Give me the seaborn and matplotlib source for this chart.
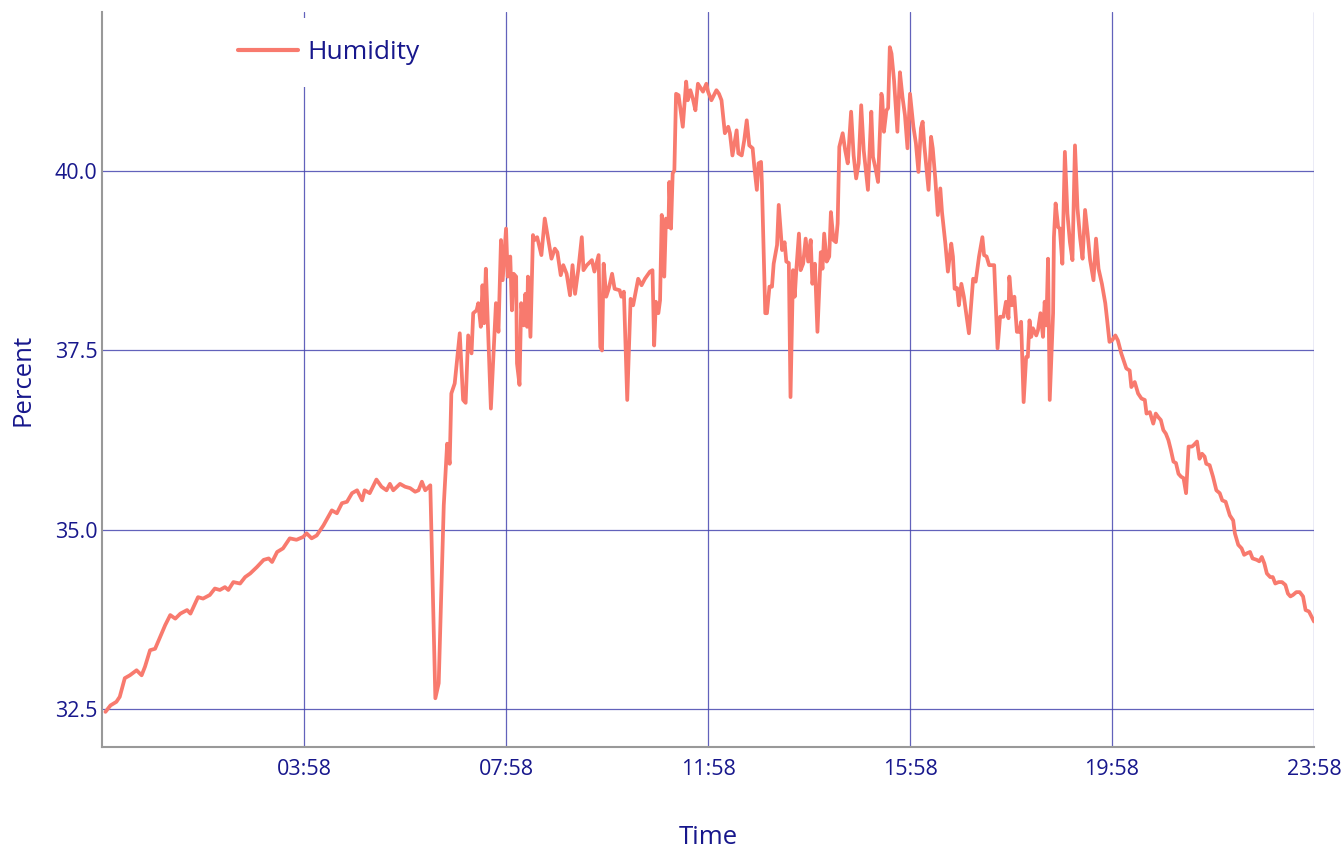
import seaborn as sns
import matplotlib.pyplot as plt
import matplotlib.dates as mdates
import pandas as pd

# minutes after midnight, humidity in percent
minutes = [
    2, 8, 15, 19, 25, 31, 39, 45, 49, 55, 61, 73, 79, 85, 91, 99, 103, 112, 118, 126,
    132, 138, 144, 148, 154, 162, 168, 174, 182, 190, 196, 200, 206, 213, 221, 229, 237, 241, 247, 253,
    261, 271, 277, 283, 289, 295, 301, 307, 310, 316, 324, 330, 336, 340, 344, 352, 358, 364, 370, 374,
    378, 382, 388, 394, 398, 404, 408, 411, 413, 417, 423, 427, 430, 433, 437, 439, 443, 445, 448, 450,
    452, 454, 460, 466, 469, 472, 474, 478, 480, 483, 485, 487, 490, 491, 494, 496, 499, 501, 503, 504,
    507, 510, 512, 515, 520, 524, 532, 536, 539, 543, 546, 550, 554, 557, 560, 564, 568, 570, 574, 580,
    583, 588, 590, 592, 594, 597, 600, 604, 607, 613, 615, 618, 622, 626, 629, 635, 639, 643, 649, 652,
    654, 656, 659, 661, 663, 666, 668, 671, 672, 674, 676, 678, 680, 683, 688, 692, 694, 697, 700, 703,
    706, 712, 716, 718, 722, 728, 731, 734, 738, 742, 744, 747, 752, 754, 758, 761, 764, 767, 771, 773,
    776, 778, 781, 782, 786, 788, 791, 794, 796, 800, 802, 806, 809, 811, 814, 816, 819, 821, 823, 826,
    828, 831, 834, 837, 840, 842, 845, 848, 852, 854, 856, 859, 862, 864, 867, 870, 872, 874, 878, 881,
    884, 888, 891, 894, 897, 900, 903, 908, 912, 914, 917, 920, 924, 925, 927, 930, 932, 934, 936, 939,
    943, 946, 949, 952, 955, 958, 962, 965, 968, 971, 973, 975, 980, 983, 985, 988, 991, 994, 996, 1000,
    1003, 1007, 1009, 1011, 1014, 1016, 1019, 1022, 1028, 1033, 1036, 1040, 1044, 1046, 1049, 1052, 1058, 1062, 1065, 1069,
    1072, 1075, 1076, 1079, 1082, 1085, 1088, 1090, 1093, 1096, 1098, 1100, 1102, 1104, 1108, 1110, 1113, 1116, 1118, 1120,
    1122, 1124, 1128, 1129, 1131, 1134, 1136, 1139, 1142, 1145, 1148, 1151, 1154, 1157, 1160, 1163, 1166, 1169, 1172, 1176,
    1179, 1182, 1186, 1190, 1192, 1195, 1198, 1202, 1205, 1209, 1215, 1219, 1221, 1225, 1229, 1233, 1237, 1239, 1243, 1247,
    1250, 1253, 1256, 1259, 1262, 1265, 1268, 1271, 1274, 1277, 1280, 1283, 1286, 1289, 1293, 1295, 1299, 1302, 1305, 1308,
    1310, 1314, 1318, 1322, 1326, 1329, 1333, 1338, 1342, 1344, 1348, 1352, 1355, 1358, 1362, 1365, 1370, 1373, 1376, 1379,
    1382, 1386, 1389, 1392, 1396, 1400, 1404, 1407, 1410, 1413, 1417, 1421, 1425, 1428, 1432, 1438,
]
humidity = [
    32.46, 32.55, 32.60, 32.67, 32.93, 32.97, 33.04, 32.97, 33.09, 33.32, 33.34, 33.67, 33.81, 33.76, 33.83, 33.88, 33.83, 34.06, 34.04, 34.09,
    34.18, 34.16, 34.20, 34.16, 34.27, 34.25, 34.34, 34.39, 34.48, 34.58, 34.60, 34.55, 34.69, 34.74, 34.88, 34.86, 34.90, 34.95, 34.88, 34.92,
    35.06, 35.27, 35.23, 35.37, 35.39, 35.51, 35.55, 35.41, 35.55, 35.51, 35.70, 35.60, 35.55, 35.64, 35.55, 35.64, 35.60, 35.58, 35.53, 35.55,
    35.67, 35.55, 35.62, 32.65, 32.86, 35.34, 36.20, 35.92, 36.90, 37.04, 37.74, 36.81, 36.77, 37.71, 37.46, 38.02, 38.06, 38.16, 37.83, 38.41,
    37.88, 38.64, 36.69, 38.16, 37.76, 39.04, 38.48, 39.20, 38.53, 38.81, 38.06, 38.57, 38.53, 37.32, 37.02, 38.16, 37.85, 38.29, 37.83, 38.53,
    37.69, 39.11, 39.04, 39.08, 38.83, 39.34, 38.78, 38.92, 38.87, 38.55, 38.69, 38.57, 38.27, 38.69, 38.29, 38.64, 39.08, 38.62, 38.69, 38.76,
    38.60, 38.83, 37.55, 37.50, 38.71, 38.25, 38.36, 38.57, 38.36, 38.34, 38.25, 38.32, 36.81, 38.22, 38.13, 38.50, 38.41, 38.50, 38.60, 38.62,
    37.57, 38.18, 38.02, 38.20, 39.39, 38.53, 39.34, 39.22, 39.85, 39.20, 39.97, 40.01, 41.08, 41.06, 40.62, 41.25, 40.99, 41.13, 41.01, 40.85,
    41.22, 41.11, 41.22, 41.11, 40.99, 41.13, 41.08, 40.99, 40.53, 40.62, 40.53, 40.22, 40.57, 40.25, 40.22, 40.43, 40.71, 40.36, 40.32, 40.06,
    39.74, 40.11, 40.13, 39.83, 38.02, 38.02, 38.39, 38.39, 38.71, 38.97, 39.53, 38.90, 39.01, 38.74, 38.72, 36.85, 38.62, 38.25, 38.64, 39.13,
    38.62, 38.71, 39.06, 38.74, 39.04, 38.43, 38.71, 37.76, 38.87, 38.64, 39.13, 38.74, 38.81, 39.43, 39.04, 39.01, 39.27, 40.34, 40.53, 40.29,
    40.11, 40.83, 40.22, 39.90, 40.11, 40.92, 40.29, 39.74, 40.83, 40.20, 40.04, 39.85, 41.08, 41.02, 40.55, 40.85, 40.88, 41.73, 41.64, 41.27,
    40.55, 41.38, 41.04, 40.78, 40.32, 41.08, 40.62, 40.39, 39.99, 40.60, 40.69, 40.36, 39.74, 40.48, 40.32, 39.90, 39.39, 39.76, 39.43, 38.99,
    38.60, 38.99, 38.81, 38.36, 38.37, 38.13, 38.43, 38.25, 37.74, 38.50, 38.46, 38.81, 39.08, 38.83, 38.81, 38.69, 38.69, 37.53, 37.97, 37.97,
    38.18, 37.95, 38.53, 38.13, 38.25, 37.76, 37.76, 37.90, 36.78, 37.41, 37.41, 37.92, 37.69, 37.81, 37.71, 37.78, 38.02, 37.69, 38.18, 37.85,
    38.78, 36.81, 38.02, 39.08, 39.55, 39.22, 39.20, 38.71, 40.27, 39.41, 39.01, 38.76, 40.36, 39.48, 39.08, 38.78, 39.46, 39.13, 38.76, 38.48,
    39.06, 38.64, 38.43, 38.16, 37.95, 37.62, 37.64, 37.71, 37.64, 37.46, 37.25, 37.22, 36.99, 37.06, 36.90, 36.83, 36.81, 36.62, 36.64, 36.48,
    36.62, 36.57, 36.53, 36.39, 36.34, 36.25, 36.11, 35.95, 35.93, 35.78, 35.74, 35.72, 35.51, 36.16, 36.16, 36.18, 36.23, 35.99, 36.06, 36.02,
    35.92, 35.90, 35.74, 35.55, 35.51, 35.41, 35.39, 35.20, 35.13, 34.95, 34.79, 34.74, 34.65, 34.67, 34.69, 34.60, 34.58, 34.56, 34.62, 34.53,
    34.39, 34.34, 34.34, 34.25, 34.27, 34.27, 34.23, 34.11, 34.07, 34.09, 34.13, 34.13, 34.07, 33.88, 33.86, 33.72,
]
x_ticks = ["03:58", "07:58", "11:58", "15:58", "19:58", "23:58"]
y_ticks = [32.5, 35.0, 37.5, 40.0]

text_color = "#17178c"
line_color = "#f87a6e"
grid_color = "#4646b0"

day = pd.Timestamp("2024-01-01")
df = pd.DataFrame({
    "time": day + pd.to_timedelta(minutes, unit="min"),
    "humidity": humidity,
})

sns.set_style("white")
plt.rcParams["font.family"] = ["Open Sans", "DejaVu Sans"]

fig = plt.figure(figsize=(13.43, 8.48), dpi=100)
ax = fig.add_axes([0.076, 0.1191, 0.9024, 0.8667])

sns.lineplot(data=df, x="time", y="humidity", ax=ax, color=line_color,
             linewidth=2.7, label="Humidity")

ax.set_xlim(day - pd.Timedelta(minutes=2), day + pd.Timedelta(minutes=1438))
ax.set_ylim(31.97, 42.22)

tick_times = [day + pd.Timedelta(hours=int(t[:2]), minutes=int(t[3:])) for t in x_ticks]
ax.set_xticks(tick_times)
ax.xaxis.set_major_formatter(mdates.DateFormatter("%H:%M"))
ax.set_yticks(y_ticks)
ax.set_yticklabels([f"{v:.1f}" for v in y_ticks])

ax.grid(True, color=grid_color, linewidth=0.9, alpha=0.85)
ax.set_axisbelow(True)
ax.tick_params(axis="both", length=0, labelsize=15.5, labelcolor=text_color)
ax.tick_params(axis="x", pad=8.5)
ax.tick_params(axis="y", pad=3.5)

for side in ["top", "right"]:
    ax.spines[side].set_visible(False)
for side in ["left", "bottom"]:
    ax.spines[side].set_color("#999999")
    ax.spines[side].set_linewidth(1.5)

ax.set_xlabel("Time", fontsize=18.5, color=text_color, labelpad=32.5)
ax.set_ylabel("Percent", fontsize=18.5, color=text_color, labelpad=14)

leg = ax.legend(loc="upper left", bbox_to_anchor=(0.094, 0.992), fontsize=19,
                frameon=True, framealpha=1.0, edgecolor="white",
                handlelength=2.27, handletextpad=0.38, borderaxespad=0,
                borderpad=0.83, fancybox=False)
leg.get_frame().set_linewidth(0)
for t in leg.get_texts():
    t.set_color(text_color)
for h in leg.get_lines():
    h.set_linewidth(3)

fig.savefig("out.png", dpi=100)
